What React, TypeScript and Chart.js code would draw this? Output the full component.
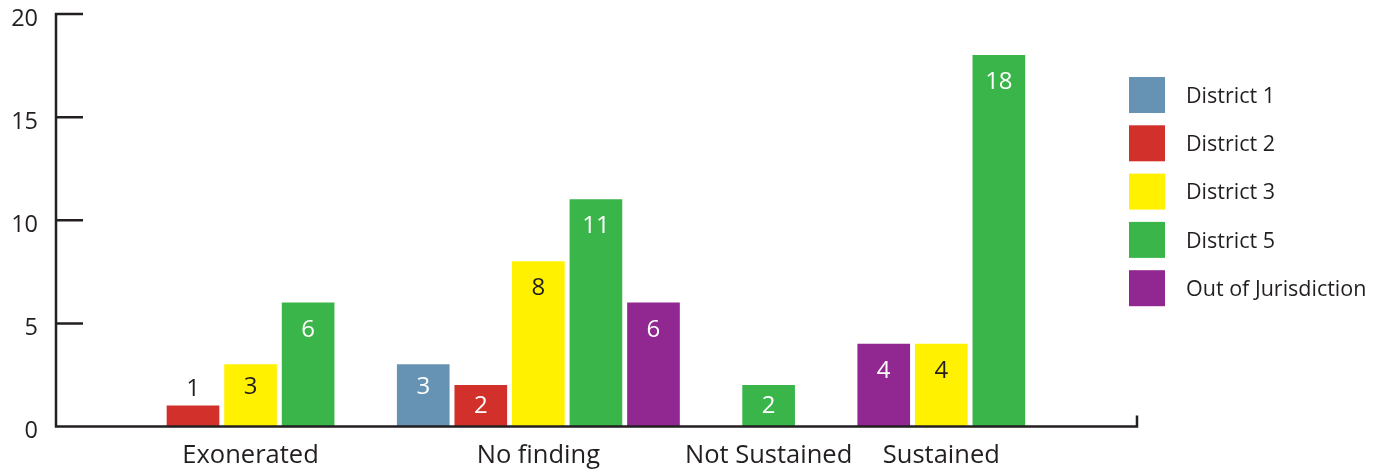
import React, { useEffect, useRef } from 'react';
import { Chart, registerables } from 'chart.js';

Chart.register(...registerables);

// ---- data ----
const categories = ['Exonerated', 'No finding', 'Not Sustained', 'Sustained'];
const seriesNames = ['District 1', 'District 2', 'District 3', 'District 5', 'Out of Jurisdiction'];
const district1 = [null, 3, null, null];
const district2 = [1, 2, null, null];
const district3 = [3, 8, null, 4];
const district5 = [6, 11, 2, 18];
const outOfJurisdiction = [null, 6, null, 4];
// order in which the series' bars appear inside each category (indices into seriesNames)
const barOrder = [[1, 2, 3], [0, 1, 2, 3, 4], [3], [4, 2, 3]];
const yTicks = [0, 5, 10, 15, 20];

// ---- styles ----
const seriesColors = ['#6693b4', '#d2302a', '#fff100', '#3ab54a', '#912790'];
const labelColors = ['#ffffff', '#ffffff', '#231f20', '#ffffff', '#ffffff'];
const INK = '#231f20';
const FONT = '"Open Sans"';

const seriesValues = [district1, district2, district3, district5, outOfJurisdiction];

// bars are packed one after another, with one empty slot between categories
const slotOf: number[][] = seriesValues.map(() => categories.map(() => NaN));
const groupCenters: number[] = [];
let slotCounter = 0;
barOrder.forEach((order, c) => {
  const start = slotCounter;
  order.forEach((s) => {
    slotOf[s][c] = slotCounter;
    slotCounter++;
  });
  groupCenters.push((start + slotCounter - 1) / 2);
  slotCounter++;
});
const lastSlot = slotCounter - 2;

const axesPlugin = {
  id: 'customAxes',
  afterDatasetsDraw(chart: any) {
    const { ctx, chartArea } = chart;
    const { left, right, top, bottom } = chartArea;
    const y = chart.scales.y;
    ctx.save();
    ctx.strokeStyle = INK;
    ctx.lineWidth = 2.5;
    ctx.lineCap = 'butt';
    ctx.beginPath();
    ctx.moveTo(left, top - 1.25);
    ctx.lineTo(left, bottom + 1.25);
    ctx.moveTo(left - 1.25, bottom);
    ctx.lineTo(right + 1.25, bottom);
    ctx.moveTo(right, bottom);
    ctx.lineTo(right, bottom - 11);
    yTicks.forEach((v) => {
      if (v === 0) return;
      const py = y.getPixelForValue(v);
      ctx.moveTo(left, py);
      ctx.lineTo(left + 27, py);
    });
    ctx.stroke();

    // value labels
    ctx.font = `24px ${FONT}`;
    ctx.textAlign = 'center';
    ctx.textBaseline = 'middle';
    chart.data.datasets.forEach((ds: any, di: number) => {
      const meta = chart.getDatasetMeta(di);
      meta.data.forEach((bar: any, i: number) => {
        const val = ds.data[i].y;
        const h = bar.base - bar.y;
        let cy: number;
        let color = labelColors[di];
        if (h >= 70) cy = bar.y + 27;
        else if (h >= 30) cy = bar.y + Math.min(23, h / 2 + 0.5);
        else {
          cy = bar.y - 17;
          color = INK;
        }
        ctx.fillStyle = color;
        ctx.fillText(String(val), bar.x, cy);
      });
    });
    ctx.restore();
  },
  afterDraw(chart: any) {
    const { ctx, chartArea } = chart;
    ctx.save();
    ctx.font = `21.5px ${FONT}`;
    ctx.textAlign = 'left';
    ctx.textBaseline = 'middle';
    const x0 = chartArea.right - 8;
    seriesNames.forEach((name, i) => {
      const y0 = 77 + i * 48.3;
      ctx.fillStyle = seriesColors[i];
      ctx.fillRect(x0, y0, 36, 36);
      ctx.fillStyle = INK;
      ctx.fillText(name, x0 + 57, y0 + 19.5);
    });
    ctx.restore();
  },
};

export default function App() {
  const canvasRef = useRef<HTMLCanvasElement | null>(null);

  useEffect(() => {
    document.body.style.margin = '0';
    const canvas = canvasRef.current;
    if (!canvas) return;

    const datasets = seriesNames.map((name, s) => ({
      label: name,
      backgroundColor: seriesColors[s],
      borderWidth: 0,
      data: categories
        .map((_, c) => (seriesValues[s][c] == null ? null : { x: slotOf[s][c], y: seriesValues[s][c] }))
        .filter((p) => p !== null),
    }));

    const chart = new Chart(canvas, {
      type: 'bar',
      data: { datasets } as any,
      plugins: [axesPlugin],
      options: {
        animation: false,
        responsive: false,
        maintainAspectRatio: false,
        layout: { padding: { top: 14, right: 248, left: 0, bottom: 0 } },
        datasets: { bar: { grouped: false, barThickness: 52 } } as any,
        plugins: {
          legend: { display: false },
          tooltip: { enabled: false },
          title: { display: false },
        },
        scales: {
          x: {
            type: 'linear',
            min: -2.38,
            max: lastSlot + 2.4,
            offset: false,
            grid: { display: false, drawTicks: false },
            border: { display: false },
            afterBuildTicks: (scale: any) => {
              scale.ticks = groupCenters.map((v) => ({ value: v }));
            },
            afterFit: (scale: any) => {
              scale.height = 45.5;
              scale.paddingLeft = 0;
              scale.paddingRight = 0;
            },
            ticks: {
              autoSkip: false,
              maxRotation: 0,
              minRotation: 0,
              padding: 14,
              color: INK,
              font: { family: FONT, size: 25.5 },
              callback: (_v: any, i: number) => categories[i],
            },
          },
          y: {
            min: 0,
            max: 20,
            grid: { display: false, drawTicks: false },
            border: { display: false },
            afterBuildTicks: (scale: any) => {
              scale.ticks = yTicks.map((v) => ({ value: v }));
            },
            afterFit: (scale: any) => {
              scale.width = 56;
              scale.paddingTop = 0;
              scale.paddingBottom = 0;
            },
            ticks: {
              padding: 18,
              labelOffset: 5,
              color: INK,
              font: { family: FONT, size: 23.5 },
              callback: (v: any) => String(v),
            },
          },
        } as any,
      },
    });

    return () => chart.destroy();
  }, []);

  return (
    <div style={{ width: 1385, height: 472, position: 'relative' }}>
      <canvas ref={canvasRef} width={1385} height={472} style={{ display: 'block' }} />
    </div>
  );
}
